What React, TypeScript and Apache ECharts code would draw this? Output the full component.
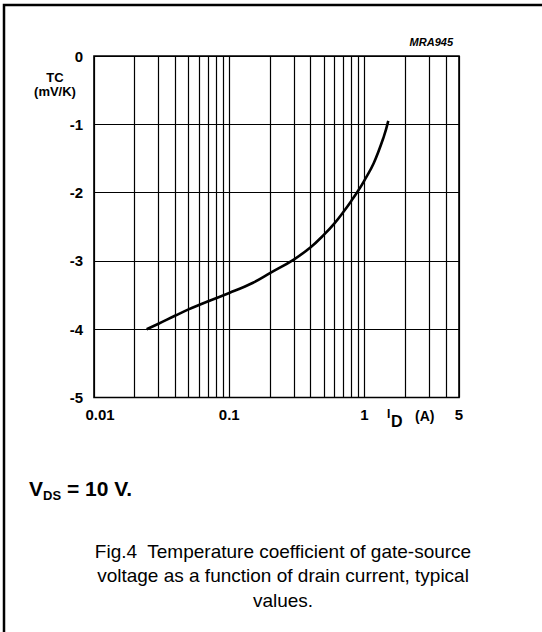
import React, { useEffect, useRef } from "react";
import * as echarts from "echarts";

// ---- data ----
const xMin = 0.01;
const xMax = 5;
const yMin = -5;
const yMax = 0;
const yInterval = 1;
const drainCurrent = [0.0245, 0.03, 0.04, 0.05, 0.07, 0.1, 0.15, 0.2, 0.3, 0.4, 0.5, 0.6, 0.7, 0.8, 0.9, 1.0, 1.17, 1.39, 1.5];
const tempCoeff = [-4.0, -3.92, -3.8, -3.71, -3.59, -3.47, -3.32, -3.18, -2.98, -2.8, -2.62, -2.45, -2.28, -2.12, -1.97, -1.82, -1.57, -1.18, -0.95];
const minorGridX = [0.02, 0.03, 0.04, 0.05, 0.06, 0.07, 0.08, 0.09, 0.2, 0.3, 0.4, 0.5, 0.6, 0.7, 0.8, 0.9, 2, 3, 4];
const captionLines = [
  "Fig.4  Temperature coefficient of gate-source",
  "voltage as a function of drain current, typical",
  "values.",
];

const FONT = "'Liberation Sans', Arial, Helvetica, sans-serif";

export default function App() {
  const ref = useRef<HTMLDivElement>(null);
  useEffect(() => {
    if (!ref.current) return;
    const chart = echarts.init(ref.current, null, { renderer: "svg" });
    const pairs = drainCurrent.map((x, i) => [x, tempCoeff[i]]);
    const txt = (x: number, y: number, text: string, size: number, weight: string, align = "left", style = "normal") => ({
      type: "text",
      x,
      y,
      silent: true,
      style: {
        text,
        fill: "#000",
        font: `${style} ${weight} ${size}px ${FONT}`,
        textAlign: align,
        align,
        textVerticalAlign: "middle",
        verticalAlign: "middle",
      },
    });
    const option: any = {
      animation: false,
      backgroundColor: "#fff",
      grid: {
        left: 94,
        right: 83,
        top: 56,
        bottom: 234.5,
        show: true,
        borderColor: "#000",
        borderWidth: 1.6,
        backgroundColor: "transparent",
        containLabel: false,
      },
      xAxis: {
        type: "log",
        logBase: 10,
        min: xMin,
        max: xMax,
        axisLine: { show: false },
        axisTick: { show: false },
        splitLine: { show: true, lineStyle: { color: "#000", width: 1.2 } },
        axisLabel: {
          margin: 9,
          color: "#000",
          fontSize: 15,
          fontWeight: "bold",
          fontFamily: FONT,
          formatter: (v: number) => {
            const s = String(parseFloat(Number(v).toPrecision(3)));
            return s === "0.01" ? "{m|" + s + "}" : s;
          },
          rich: {
            m: { padding: [0, 0, 0, 12], fontSize: 15, fontWeight: "bold", fontFamily: FONT, color: "#000" },
          },
        },
      },
      yAxis: {
        type: "value",
        min: yMin,
        max: yMax,
        interval: yInterval,
        axisLine: { show: false },
        axisTick: { show: false },
        splitLine: { show: true, lineStyle: { color: "#000", width: 1.2 } },
        axisLabel: {
          margin: 11,
          color: "#000",
          fontSize: 15,
          fontWeight: "bold",
          fontFamily: FONT,
        },
      },
      series: [
        {
          type: "line",
          data: pairs,
          smooth: 0.4,
          symbol: "none",
          lineStyle: { color: "#000", width: 2.6 },
          z: 5,
          markLine: {
            silent: true,
            symbol: ["none", "none"],
            label: { show: false },
            lineStyle: { color: "#000", width: 1.2, type: "solid" },
            emphasis: { disabled: true },
            data: minorGridX.map((v) => ({ xAxis: v })),
          },
        },
      ],
      graphic: [
        {
          type: "rect",
          shape: { x: 4, y: 5, width: 700, height: 700 },
          style: { fill: "none", stroke: "#000", lineWidth: 2.5 },
          silent: true,
        },
        txt(55, 77, "TC", 13, "bold", "center"),
        txt(55, 91, "(mV/K)", 13, "bold", "center"),
        txt(453, 42, "MRA945", 11, "bold", "right", "italic"),
        txt(387, 414, "I", 12, "bold"),
        txt(391, 421.5, "D", 16, "bold"),
        txt(415, 416, "(A)", 14, "bold"),
        txt(29, 488, "V", 21, "bold"),
        txt(43, 495, "DS", 13, "bold"),
        txt(67, 488, "= 10 V.", 21, "bold"),
        ...captionLines.map((l, i) => txt(283, 551 + i * 24.5, l, 19, "normal", "center")),
      ],
    };
    chart.setOption(option);
    return () => chart.dispose();
  }, []);
  return <div ref={ref} style={{ position: "absolute", left: 0, top: 0, width: 542, height: 632 }} />;
}
